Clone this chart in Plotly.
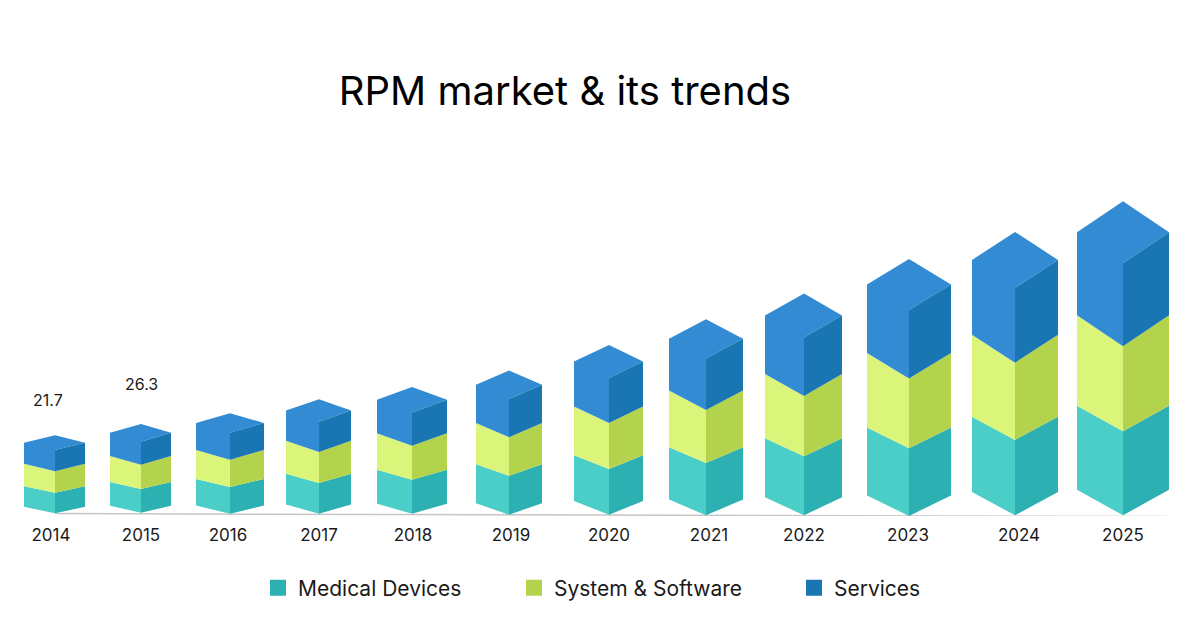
import plotly.graph_objects as go

# ---- data ----
years = ["2014", "2015", "2016", "2017", "2018", "2019", "2020", "2021", "2022", "2023", "2024", "2025"]
medical_devices = [7.1, 8.2, 9.2, 10.6, 11.7, 13.4, 15.8, 18.0, 20.4, 23.4, 26.0, 29.0]
system_software = [7.4, 8.3, 9.4, 10.7, 11.7, 13.3, 15.8, 18.3, 20.7, 24.0, 26.6, 29.3]
services = [7.3, 8.0, 9.3, 10.4, 11.5, 13.2, 15.5, 17.8, 20.2, 23.6, 25.8, 28.6]
total_labels = ["21.7", "26.3"]

# ---- layout of the isometric columns ----
FONT = "Inter"
INK = "#1a1a1a"
W, H = 1200, 630
AXIS_PX = 516
PX_PER_UNIT = 2.9
bar_left = [24, 110, 196, 286, 377, 476, 574, 669, 765, 867, 972, 1077]
bar_mid = [55, 141, 230, 319, 412, 509, 609, 706, 804, 909, 1015, 1123]
bar_right = [85, 171, 264, 351, 447, 542, 643, 743, 842, 951, 1058, 1169]
base_lift = [2.7, 3.3, 2.3, 2.3, 2.3, 1.3, 1.3, 0.7, 0.7, 0, 0.7, 0.7]
skew_low = [6.5, 7, 8.1, 9.3, 10, 11.5, 13.7, 15.8, 18, 20.6, 23.2, 25.5]
skew_high = [7.4, 8.8, 9.8, 11.3, 12.7, 14.3, 16.6, 19.6, 22, 25.5, 28, 31]
tick_pos = [51, 141, 228, 319, 413, 511, 609, 709, 804, 908, 1019, 1123]
label_pos = [(48, 400), (141, 384)]

series = [
    ("Medical Devices", medical_devices, "#4BCDC8", "#2DB0B2", "legend", 258),
    ("System & Software", system_software, "#DBF47A", "#B4D34C", "legend2", 514),
    ("Services", services, "#338CD3", "#1A76B2", "legend3", 794),
]

fig = go.Figure()

# faint, slightly tilted ground line
fig.add_trace(go.Scatter(
    x=[55, 1167], y=[(AXIS_PX - 513.6) / PX_PER_UNIT, (AXIS_PX - 516.6) / PX_PER_UNIT],
    mode="lines", line=dict(color="#c6c6c6", width=1.5), showlegend=False, hoverinfo="skip", cliponaxis=False,
))

u = lambda px: px / PX_PER_UNIT
floors = [u(b) for b in base_lift]
for level, (name, vals, light, dark, legend_id, _) in enumerate(series):
    lx, ly, rx, ry = [], [], [], []
    for i, v in enumerate(vals):
        lo = floors[i]
        hi = lo + v
        d0 = u(skew_low[i] if level < 2 else skew_high[i])
        d1 = u(skew_low[i] if level < 1 else skew_high[i])
        if level == 2:
            lx += [bar_left[i], bar_mid[i], bar_mid[i], bar_right[i], bar_mid[i], bar_left[i], None]
            ly += [lo + d0, lo, hi, hi + d1, hi + 2 * d1, hi + d1, None]
        else:
            lx += [bar_left[i], bar_mid[i], bar_mid[i], bar_left[i], None]
            ly += [lo + d0, lo, hi, hi + d1, None]
        rx += [bar_mid[i], bar_right[i], bar_right[i], bar_mid[i], None]
        ry += [lo, lo + d0, hi + d1, hi, None]
        floors[i] = hi
    for xs, ys, c in ((lx, ly, light), (rx, ry, dark)):
        fig.add_trace(go.Scatter(x=xs, y=ys, mode="lines", fill="toself", fillcolor=c,
                                 line=dict(width=0, color=c), showlegend=False, hoverinfo="skip"))

# legend entries
for name, vals, light, dark, legend_id, lx in series:
    fig.add_trace(go.Scatter(x=[None], y=[None], mode="markers", name=name, legend=legend_id,
                             marker=dict(symbol="square", size=16, color=dark)))

legend_common = dict(font=dict(family=FONT, size=21, color=INK), orientation="h", yanchor="middle",
                     y=(AXIS_PX - 588) / (AXIS_PX), xanchor="left", bgcolor="rgba(0,0,0,0)",
                     itemclick=False, itemdoubleclick=False)
legends = {s[4]: dict(legend_common, x=s[5] / W) for s in series}

for text, (x, y) in zip(total_labels, label_pos):
    fig.add_annotation(x=x, y=(AXIS_PX - y) / PX_PER_UNIT, text=text, showarrow=False,
                       font=dict(family=FONT, size=16, color=INK), xanchor="center", yanchor="middle")

fig.update_layout(
    width=W, height=H, autosize=False,
    margin=dict(l=0, r=0, t=0, b=H - AXIS_PX),
    paper_bgcolor="white", plot_bgcolor="white",
    title=dict(text="RPM market & its trends", x=565 / W, y=1 - 91 / H, xanchor="center", yanchor="middle",
               xref="paper", yref="container", font=dict(family=FONT, size=40, color="#000000")),
    xaxis=dict(range=[0, W], tickmode="array", tickvals=tick_pos, ticktext=years, showgrid=False, zeroline=False,
               showline=False, ticks="outside", ticklen=4, tickcolor="rgba(0,0,0,0)",
               tickfont=dict(family=FONT, size=17, color=INK), fixedrange=True),
    yaxis=dict(range=[0, AXIS_PX / PX_PER_UNIT], visible=False, fixedrange=True),
    **legends,
)
fig.write_html("out.html", config=dict(displayModeBar=False),
               post_script="document.body.style.margin='0';document.body.style.overflow='hidden';")
